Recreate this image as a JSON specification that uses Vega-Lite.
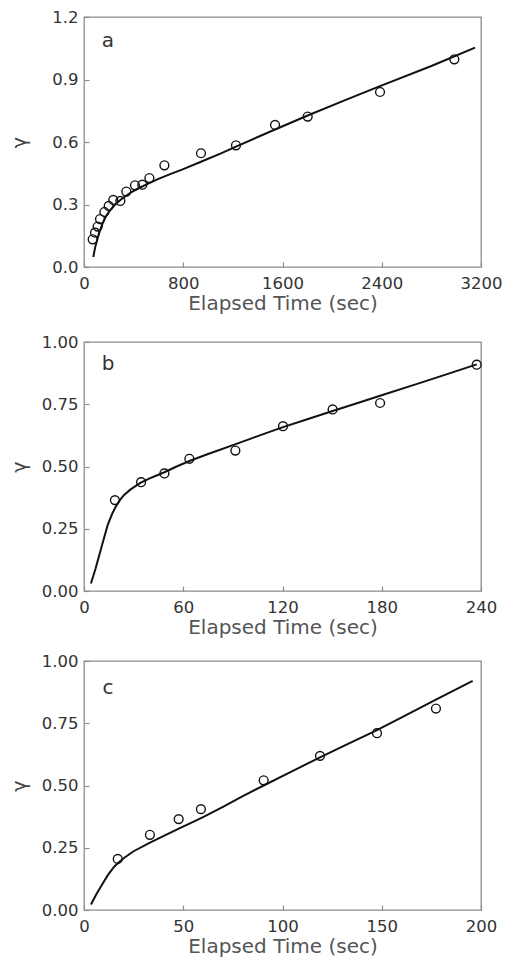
{
  "$schema": "https://vega.github.io/schema/vega-lite/v6.json",
  "background": "white",
  "padding": {"left": 9, "top": 8, "right": 0, "bottom": 0},
  "autosize": {"type": "pad"},
  "config": {
    "font": "DejaVu Sans",
    "view": {"stroke": "#8c8c8c", "strokeWidth": 1.3},
    "axis": {
      "domain": false,
      "grid": false,
      "tickColor": "#8c8c8c",
      "tickSize": -5,
      "tickWidth": 1.2,
      "labelFont": "DejaVu Sans",
      "labelFontSize": 16.5,
      "labelColor": "#333333",
      "labelFlush": false,
      "labelOverlap": false,
      "titleFont": "DejaVu Sans",
      "titleFontWeight": "normal",
      "titleColor": "#555555",
      "titleFontSize": 20
    },
    "axisX": {"labelPadding": 13, "titlePadding": 2},
    "axisY": {"labelPadding": 11, "titleX": -65, "titleBaseline": "middle", "titleAlign": "center", "titleFontSize": 19, "titleColor": "#444444"}
  },
  "datasets": {
    "pointsA": [
      {"t": 70, "g": 0.133}, {"t": 89, "g": 0.165}, {"t": 110, "g": 0.194}, {"t": 129, "g": 0.23},
      {"t": 164, "g": 0.264}, {"t": 199, "g": 0.293}, {"t": 236, "g": 0.322}, {"t": 293, "g": 0.317},
      {"t": 341, "g": 0.362}, {"t": 411, "g": 0.392}, {"t": 470, "g": 0.395}, {"t": 527, "g": 0.427},
      {"t": 648, "g": 0.488}, {"t": 943, "g": 0.546}, {"t": 1225, "g": 0.584}, {"t": 1540, "g": 0.682},
      {"t": 1803, "g": 0.722}, {"t": 2386, "g": 0.84}, {"t": 2985, "g": 0.997}
    ],
    "curveA": [
      {"t": 75, "g": 0.048}, {"t": 90, "g": 0.095}, {"t": 105, "g": 0.127}, {"t": 120, "g": 0.16},
      {"t": 137, "g": 0.189}, {"t": 155, "g": 0.216}, {"t": 177, "g": 0.243}, {"t": 200, "g": 0.264},
      {"t": 231, "g": 0.287}, {"t": 265, "g": 0.307}, {"t": 298, "g": 0.324}, {"t": 340, "g": 0.342},
      {"t": 379, "g": 0.358}, {"t": 440, "g": 0.378}, {"t": 513, "g": 0.399}, {"t": 600, "g": 0.423},
      {"t": 700, "g": 0.447}, {"t": 800, "g": 0.47}, {"t": 943, "g": 0.505}, {"t": 1104, "g": 0.545},
      {"t": 1225, "g": 0.578}, {"t": 1540, "g": 0.66}, {"t": 1803, "g": 0.727}, {"t": 2100, "g": 0.8},
      {"t": 2386, "g": 0.868}, {"t": 2800, "g": 0.965}, {"t": 3152, "g": 1.053}
    ],
    "pointsB": [
      {"t": 18.7, "g": 0.365}, {"t": 34.5, "g": 0.437}, {"t": 48.6, "g": 0.472}, {"t": 63.7, "g": 0.531},
      {"t": 91.5, "g": 0.564}, {"t": 120.3, "g": 0.662}, {"t": 150.3, "g": 0.729}, {"t": 179, "g": 0.755},
      {"t": 237.4, "g": 0.909}
    ],
    "curveB": [
      {"t": 4.2, "g": 0.03}, {"t": 7, "g": 0.09}, {"t": 10.3, "g": 0.17}, {"t": 14.3, "g": 0.265},
      {"t": 17, "g": 0.31}, {"t": 19.3, "g": 0.34}, {"t": 22, "g": 0.368}, {"t": 24.4, "g": 0.387},
      {"t": 28, "g": 0.407}, {"t": 34, "g": 0.434}, {"t": 41, "g": 0.456}, {"t": 48.6, "g": 0.477},
      {"t": 56, "g": 0.5}, {"t": 63.7, "g": 0.522}, {"t": 75, "g": 0.55}, {"t": 90.9, "g": 0.588},
      {"t": 105, "g": 0.622}, {"t": 120.3, "g": 0.658}, {"t": 135, "g": 0.69}, {"t": 150.3, "g": 0.723},
      {"t": 165, "g": 0.754}, {"t": 179, "g": 0.784}, {"t": 200, "g": 0.829}, {"t": 220, "g": 0.872},
      {"t": 237.4, "g": 0.91}
    ],
    "pointsC": [
      {"t": 17.0, "g": 0.205}, {"t": 33.2, "g": 0.302}, {"t": 47.7, "g": 0.365}, {"t": 58.9, "g": 0.405},
      {"t": 90.5, "g": 0.521}, {"t": 118.9, "g": 0.619}, {"t": 147.6, "g": 0.71}, {"t": 177.3, "g": 0.809}
    ],
    "curveC": [
      {"t": 3.5, "g": 0.022}, {"t": 6, "g": 0.06}, {"t": 8.6, "g": 0.095}, {"t": 12, "g": 0.14},
      {"t": 15.3, "g": 0.175}, {"t": 18, "g": 0.195}, {"t": 20.3, "g": 0.21}, {"t": 25, "g": 0.236},
      {"t": 33, "g": 0.27}, {"t": 41, "g": 0.301}, {"t": 48, "g": 0.328}, {"t": 55, "g": 0.354},
      {"t": 61, "g": 0.377}, {"t": 70, "g": 0.414}, {"t": 80, "g": 0.457}, {"t": 90.5, "g": 0.5},
      {"t": 105, "g": 0.558}, {"t": 118.9, "g": 0.613}, {"t": 133, "g": 0.667}, {"t": 147.6, "g": 0.722},
      {"t": 162, "g": 0.782}, {"t": 177.3, "g": 0.845}, {"t": 195.8, "g": 0.92}
    ],
    "labelA": [{"t": 193, "g": 1.085, "label": "a"}],
    "labelB": [{"t": 14.5, "g": 0.91, "label": "b"}],
    "labelC": [{"t": 12.1, "g": 0.89, "label": "c"}]
  },
  "vconcat": [
    {
      "width": 397,
      "height": 250,
      "encoding": {
        "x": {"field": "t", "type": "quantitative", "scale": {"domain": [0, 3200], "nice": false},
              "axis": {"title": "Elapsed Time (sec)", "values": [0, 800, 1600, 2400, 3200], "format": "d"}},
        "y": {"field": "g", "type": "quantitative", "scale": {"domain": [0, 1.2], "nice": false},
              "axis": {"title": "γ", "values": [0, 0.3, 0.6, 0.9, 1.2], "format": ".1f"}}
      },
      "layer": [
        {"data": {"name": "curveA"}, "mark": {"type": "line", "color": "#111111", "strokeWidth": 2}},
        {"data": {"name": "pointsA"}, "mark": {"type": "point", "shape": "circle", "filled": false, "size": 78, "color": "#111111", "strokeWidth": 1.4, "opacity": 1}},
        {"data": {"name": "labelA"}, "mark": {"type": "text", "fontSize": 20, "color": "#333333", "align": "center", "baseline": "middle"}, "encoding": {"text": {"field": "label"}}}
      ]
    },
    {
      "bounds": "flush",
      "spacing": 70,
      "vconcat": [
        {
          "width": 397,
          "height": 249,
          "encoding": {
            "x": {"field": "t", "type": "quantitative", "scale": {"domain": [0, 240], "nice": false},
                  "axis": {"title": "Elapsed Time (sec)", "values": [0, 60, 120, 180, 240], "format": "d"}},
            "y": {"field": "g", "type": "quantitative", "scale": {"domain": [0, 1], "nice": false},
                  "axis": {"title": "γ", "values": [0, 0.25, 0.5, 0.75, 1], "format": ".2f"}}
          },
          "layer": [
            {"data": {"name": "curveB"}, "mark": {"type": "line", "color": "#111111", "strokeWidth": 2}},
            {"data": {"name": "pointsB"}, "mark": {"type": "point", "shape": "circle", "filled": false, "size": 78, "color": "#111111", "strokeWidth": 1.4, "opacity": 1}},
            {"data": {"name": "labelB"}, "mark": {"type": "text", "fontSize": 20, "color": "#333333", "align": "center", "baseline": "middle"}, "encoding": {"text": {"field": "label"}}}
          ]
        },
        {
          "width": 397,
          "height": 249,
          "encoding": {
            "x": {"field": "t", "type": "quantitative", "scale": {"domain": [0, 200], "nice": false},
                  "axis": {"title": "Elapsed Time (sec)", "values": [0, 50, 100, 150, 200], "format": "d"}},
            "y": {"field": "g", "type": "quantitative", "scale": {"domain": [0, 1], "nice": false},
                  "axis": {"title": "γ", "values": [0, 0.25, 0.5, 0.75, 1], "format": ".2f"}}
          },
          "layer": [
            {"data": {"name": "curveC"}, "mark": {"type": "line", "color": "#111111", "strokeWidth": 2}},
            {"data": {"name": "pointsC"}, "mark": {"type": "point", "shape": "circle", "filled": false, "size": 78, "color": "#111111", "strokeWidth": 1.4, "opacity": 1}},
            {"data": {"name": "labelC"}, "mark": {"type": "text", "fontSize": 20, "color": "#333333", "align": "center", "baseline": "middle"}, "encoding": {"text": {"field": "label"}}}
          ]
        }
      ]
    }
  ],
  "spacing": 75,
  "bounds": "flush"
}
